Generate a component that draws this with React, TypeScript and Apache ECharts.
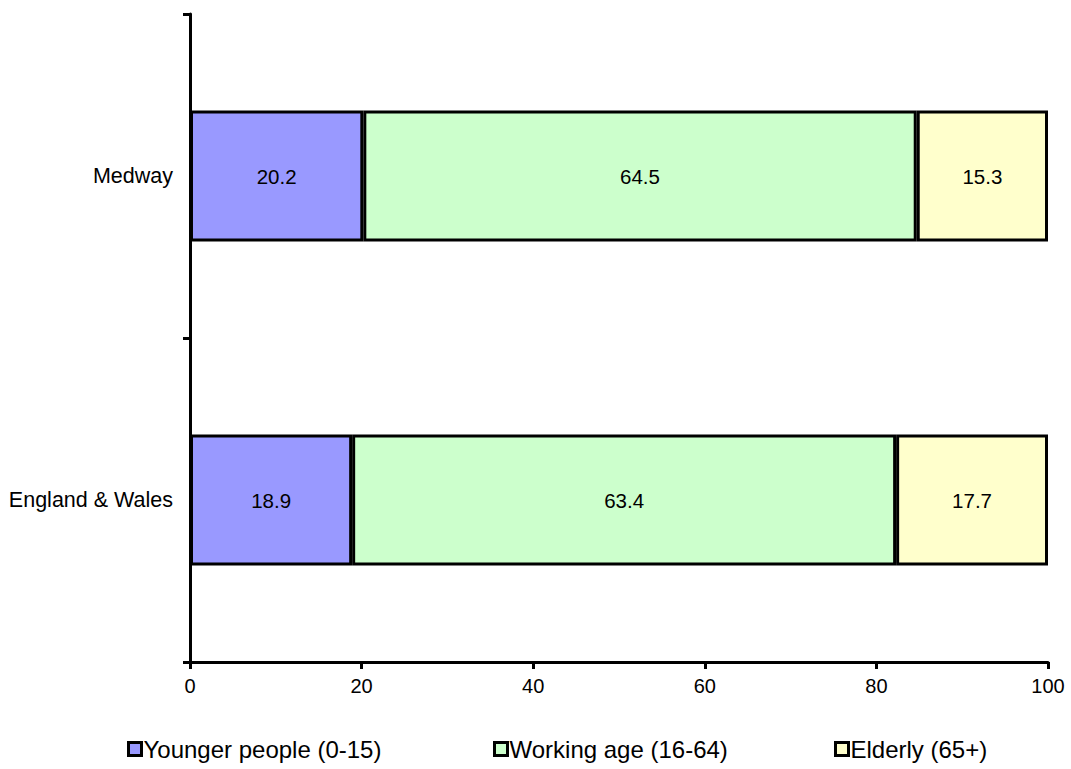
import React, { useEffect, useRef } from "react";
import * as echarts from "echarts";

const categories = ["England & Wales", "Medway"];
const younger = [18.9, 20.2];
const working = [63.4, 64.5];
const elderly = [17.7, 15.3];
const seriesNames = ["Younger people (0-15)", "Working age (16-64)", "Elderly (65+)"];
const colors = ["#9999FF", "#CCFFCC", "#FFFFCC"];
const legendLefts = [127, 493, 834];

export default function App() {
  const ref = useRef<HTMLDivElement>(null);
  useEffect(() => {
    const chart = echarts.init(ref.current!, undefined, { renderer: "svg" });
    const font = "Liberation Sans, Arial, sans-serif";
    const values = [younger, working, elderly];
    chart.setOption({
      animation: false,
      textStyle: { fontFamily: font },
      grid: { left: 190, right: 23, top: 14, bottom: 107 },
      legend: seriesNames.map((name, i) => ({
        data: [name],
        left: legendLefts[i],
        top: 737,
        padding: 0,
        itemWidth: 13,
        itemHeight: 13,
        icon: "rect",
        itemStyle: { borderColor: "#000", borderWidth: 3 },
        textStyle: { fontSize: 24, color: "#000", fontFamily: font, padding: [0, 0, 0, -3] },
      })),
      xAxis: {
        type: "value",
        min: 0,
        max: 100,
        interval: 20,
        axisLine: { show: true, lineStyle: { color: "#000", width: 3 } },
        axisTick: { show: true, length: 7, lineStyle: { color: "#000", width: 3 } },
        axisLabel: { fontSize: 20, color: "#000", margin: 14 },
        splitLine: { show: false },
      },
      yAxis: {
        type: "category",
        data: categories,
        axisLine: { show: true, lineStyle: { color: "#000", width: 3 } },
        axisTick: { show: true, length: 7, lineStyle: { color: "#000", width: 3 } },
        axisLabel: { fontSize: 21.5, color: "#000", margin: 17 },
      },
      series: seriesNames.map((name, i) => ({
        name,
        type: "bar",
        stack: "total",
        barWidth: "40.5%",
        data: values[i],
        itemStyle: { color: colors[i], borderColor: "#000", borderWidth: 3 },
        label: {
          show: true,
          position: "inside",
          fontSize: 20.5,
          color: "#000",
          formatter: (p: any) => p.value.toFixed(1),
        },
      })),
    });
    return () => chart.dispose();
  }, []);
  return <div ref={ref} style={{ width: 1071, height: 769, position: "absolute", left: 0, top: 0, background: "#fff" }} />;
}
